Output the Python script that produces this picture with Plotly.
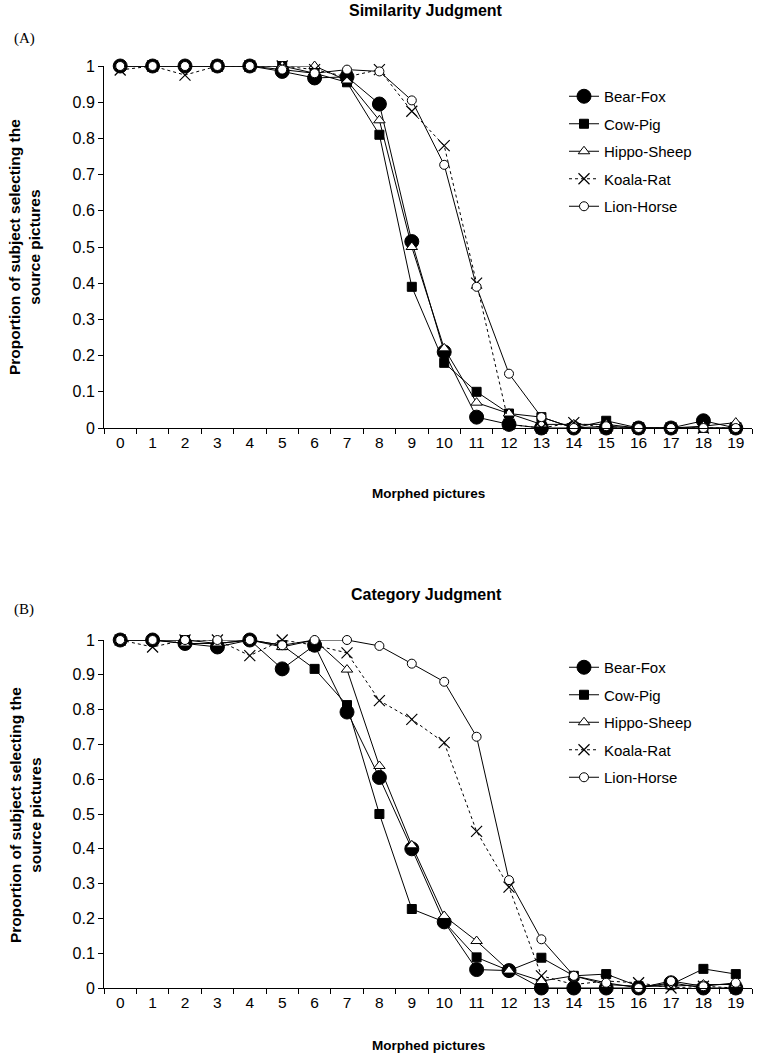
import plotly.graph_objects as go

categories = [str(i) for i in range(20)]
series_names = ["Bear-Fox", "Cow-Pig", "Hippo-Sheep", "Koala-Rat", "Lion-Horse"]
y_ticks = [0, 0.1, 0.2, 0.3, 0.4, 0.5, 0.6, 0.7, 0.8, 0.9, 1]
y_ticklabels = ["0", "0.1", "0.2", "0.3", "0.4", "0.5", "0.6", "0.7", "0.8", "0.9", "1"]

# Panel A: Similarity Judgment
sim_bear_fox = [1, 1, 1, 1, 1, 0.985, 0.967, 0.97, 0.895, 0.515, 0.21, 0.03, 0.01, 0, 0, 0, 0, 0, 0.02, 0]
sim_cow_pig = [1, 1, 1, 1, 1, 1, 0.98, 0.955, 0.81, 0.39, 0.18, 0.10, 0.04, 0.03, 0, 0.02, 0, 0, 0, 0]
sim_hippo_sheep = [1, 1, 1, 1, 1, 1, 1, 0.96, 0.85, 0.50, 0.22, 0.07, 0.04, 0.01, 0.01, 0.01, 0, 0, 0.005, 0.015]
sim_koala_rat = [0.989, 1, 0.975, 1, 1, 1, 0.99, 0.97, 0.99, 0.875, 0.78, 0.40, 0.01, 0, 0.015, 0, 0, 0, 0, 0]
sim_lion_horse = [1, 1, 1, 1, 1, 0.99, 0.98, 0.99, 0.985, 0.905, 0.727, 0.39, 0.15, 0.03, 0, 0.005, 0, 0, 0, 0]

# Panel B: Category Judgment
cat_bear_fox = [1, 1, 0.99, 0.98, 1, 0.917, 0.985, 0.793, 0.605, 0.40, 0.19, 0.053, 0.05, 0, 0, 0, 0, 0.015, 0, 0]
cat_cow_pig = [1, 1, 1, 0.99, 1, 0.985, 0.917, 0.813, 0.50, 0.227, 0.19, 0.088, 0.05, 0.087, 0.035, 0.04, 0.005, 0.01, 0.055, 0.04]
cat_hippo_sheep = [1, 1, 0.99, 0.99, 1, 0.98, 1, 0.915, 0.638, 0.41, 0.207, 0.135, 0.05, 0.02, 0.035, 0.01, 0.005, 0.005, 0.01, 0.01]
cat_koala_rat = [1, 0.98, 1, 1, 0.955, 1, 0.985, 0.963, 0.826, 0.772, 0.705, 0.45, 0.29, 0.035, 0.01, 0.02, 0.015, 0, 0.005, 0]
cat_lion_horse = [1, 1, 1, 1, 1, 0.985, 1, 1, 0.983, 0.932, 0.88, 0.722, 0.31, 0.14, 0.035, 0.015, 0, 0.02, 0.005, 0.015]

panel_a = [sim_bear_fox, sim_cow_pig, sim_hippo_sheep, sim_koala_rat, sim_lion_horse]
panel_b = [cat_bear_fox, cat_cow_pig, cat_hippo_sheep, cat_koala_rat, cat_lion_horse]

styles = [
    dict(marker=dict(symbol="circle", size=14, color="black", line=dict(color="black", width=1)), dash="solid"),
    dict(marker=dict(symbol="square", size=9, color="black", line=dict(color="black", width=1)), dash="solid"),
    dict(marker=dict(symbol="triangle-up", size=10, color="white", line=dict(color="black", width=1)), dash="solid"),
    dict(marker=dict(symbol="x-thin", size=11, color="black", line=dict(color="black", width=1.2)), dash="dot"),
    dict(marker=dict(symbol="circle", size=9, color="white", line=dict(color="black", width=1)), dash="solid"),
]

W, H = 761, 1056
# target plot area (in screenshot pixels): x 104..752; panel A y 66..428; panel B y 640..988
ML = 104
MR = W - 752
MT = 66
MB = H - 988
PW = W - ML - MR
PH = H - MT - MB


def px_x(px):
    return (px - ML) / PW


def px_y(py):
    return (H - MB - py) / PH


fig = go.Figure()

for panel_idx, (data, xa, ya, leg) in enumerate([(panel_a, "x", "y", "legend"), (panel_b, "x2", "y2", "legend2")]):
    for i, (name, vals) in enumerate(zip(series_names, data)):
        st = styles[i]
        fig.add_trace(go.Scatter(
            x=categories, y=vals, name=name, mode="lines+markers",
            line=dict(color="black", width=1, dash=st["dash"]),
            marker=st["marker"], cliponaxis=False,
            xaxis=xa, yaxis=ya, legend=leg, legendgroup=f"{panel_idx}_{i}",
        ))

font_family = "Liberation Sans, Arial, sans-serif"

axis_common_x = dict(
    type="category", range=[-0.5, 19.5], tickson="boundaries", ticks="outside", ticklen=5,
    tickcolor="black", tickwidth=1, showline=True, linecolor="black", linewidth=1,
    showgrid=False, zeroline=False, tickfont=dict(size=15.5, color="black", family=font_family),
    fixedrange=True,
)
axis_common_y = dict(
    range=[0, 1], tickvals=y_ticks, ticktext=y_ticklabels, ticks="outside", ticklen=5,
    tickcolor="black", tickwidth=1, showline=True, linecolor="black", linewidth=1,
    showgrid=False, zeroline=False, tickfont=dict(size=16, color="black", family=font_family),
    fixedrange=True,
)

domA = [px_y(428), 1.0]
domB = [0.0, px_y(640)]

legend_common = dict(
    font=dict(size=15, color="black", family=font_family), bgcolor="rgba(0,0,0,0)",
    tracegroupgap=5, xanchor="left", yanchor="top", itemwidth=30,
)

fig.update_layout(
    width=W, height=H, margin=dict(l=ML, r=MR, t=MT, b=MB),
    paper_bgcolor="white", plot_bgcolor="white", showlegend=True,
    font=dict(family=font_family, color="black"),
    xaxis=dict(**axis_common_x, domain=[0, 1], anchor="y"),
    yaxis=dict(**axis_common_y, domain=domA, anchor="x"),
    xaxis2=dict(**axis_common_x, domain=[0, 1], anchor="y2"),
    yaxis2=dict(**axis_common_y, domain=domB, anchor="x2"),
    legend=dict(**legend_common, x=px_x(564), y=px_y(80)),
    legend2=dict(**legend_common, x=px_x(564), y=px_y(651)),
)

ann = []
for title, ty, lab, ly, xt_y, yt_y in [
    ("Similarity Judgment", 11, "(A)", 38, 493, 247),
    ("Category Judgment", 594, "(B)", 609, 1045, 815),
]:
    ann.append(dict(text=f"<b>{title}</b>", x=px_x(426), y=px_y(ty), xref="paper", yref="paper",
                    showarrow=False, font=dict(size=16, family=font_family, color="black"),
                    xanchor="center", yanchor="middle"))
    ann.append(dict(text=lab, x=px_x(12), y=px_y(ly), xref="paper", yref="paper",
                    showarrow=False, font=dict(size=15, family="Liberation Serif, Times New Roman, serif", color="black"),
                    xanchor="left", yanchor="middle"))
    ann.append(dict(text="<b>Morphed pictures</b>", x=px_x(428), y=px_y(xt_y), xref="paper", yref="paper",
                    showarrow=False, font=dict(size=13.5, family=font_family, color="black"),
                    xanchor="center", yanchor="middle"))
    ann.append(dict(text="<b>Proportion of subject selecting the<br>source pictures</b>", x=px_x(25), y=px_y(yt_y),
                    xref="paper", yref="paper", showarrow=False, textangle=-90,
                    font=dict(size=15.5, family=font_family, color="black"),
                    xanchor="center", yanchor="middle"))

fig.update_layout(annotations=ann)

fig.write_html("out.html", config={"displayModeBar": False},
               post_script="document.body.style.margin='0';")
